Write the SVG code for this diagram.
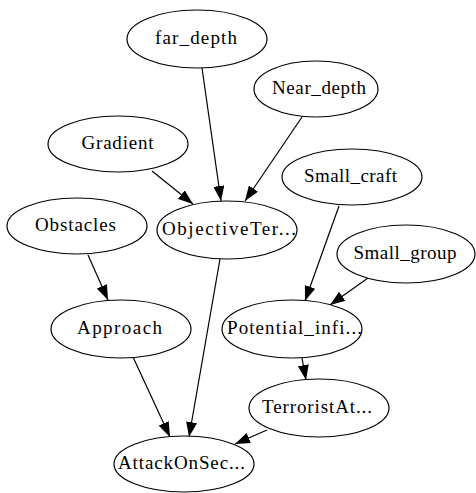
<svg xmlns="http://www.w3.org/2000/svg" width="476" height="493" viewBox="0 0 476 493">
  <style>
    .node ellipse { fill: #ffffff; stroke: #000000; stroke-width: 1.2; }
    .node text { font-family: 'Liberation Serif', 'Times New Roman', Times, Tinos, 'Noto Serif', 'DejaVu Serif', FreeSerif, serif; font-size: 19px; fill: #000000; text-anchor: middle; }
    .edge { stroke: #000000; stroke-width: 1.2; fill: none; marker-end: url(#arrow); }
  </style>
  <defs>
    <marker id="arrow" markerUnits="userSpaceOnUse" markerWidth="15" markerHeight="11" refX="15" refY="5.5" orient="auto">
      <path d="M0,0 L15,5.5 L0,11 z" fill="#000000"/>
    </marker>
  </defs>
  <rect width="476" height="493" fill="#ffffff"/>

  <g id="edges">
    <line class="edge" x1="202" y1="68" x2="221" y2="201"/>
    <line class="edge" x1="302" y1="117" x2="245" y2="201"/>
    <line class="edge" x1="152" y1="171" x2="193" y2="204"/>
    <line class="edge" x1="88" y1="255" x2="108" y2="300"/>
    <line class="edge" x1="220" y1="259" x2="189" y2="437"/>
    <line class="edge" x1="133" y1="357" x2="170" y2="437"/>
    <line class="edge" x1="339" y1="206" x2="305" y2="301"/>
    <line class="edge" x1="368" y1="278" x2="330" y2="305"/>
    <line class="edge" x1="302" y1="358" x2="306" y2="380"/>
    <line class="edge" x1="267" y1="430" x2="235" y2="444"/>
  </g>

  <g id="far_depth" class="node">
    <ellipse cx="197" cy="39" rx="70" ry="29"/>
    <text x="196" y="44" textLength="82" lengthAdjust="spacing">far_depth</text>
  </g>
  <g id="Near_depth" class="node">
    <ellipse cx="316" cy="89" rx="62" ry="28"/>
    <text x="319" y="94" textLength="94" lengthAdjust="spacing">Near_depth</text>
  </g>
  <g id="Gradient" class="node">
    <ellipse cx="118" cy="144" rx="70" ry="28"/>
    <text x="117.5" y="149" textLength="72" lengthAdjust="spacing">Gradient</text>
  </g>
  <g id="Small_craft" class="node">
    <ellipse cx="352" cy="177" rx="70" ry="28"/>
    <text x="350.5" y="182" textLength="93" lengthAdjust="spacing">Small_craft</text>
  </g>
  <g id="Obstacles" class="node">
    <ellipse cx="77" cy="226" rx="70" ry="28"/>
    <text x="75.5" y="231" textLength="81" lengthAdjust="spacing">Obstacles</text>
  </g>
  <g id="ObjectiveTer" class="node">
    <ellipse cx="227" cy="230" rx="70" ry="29"/>
    <text x="229" y="235" textLength="134" lengthAdjust="spacing">ObjectiveTer...</text>
  </g>
  <g id="Small_group" class="node">
    <ellipse cx="406" cy="254" rx="69" ry="29"/>
    <text x="405" y="259" textLength="103" lengthAdjust="spacing">Small_group</text>
  </g>
  <g id="Approach" class="node">
    <ellipse cx="121" cy="329" rx="70" ry="29"/>
    <text x="119.5" y="334" textLength="85" lengthAdjust="spacing">Approach</text>
  </g>
  <g id="Potential_infi" class="node">
    <ellipse cx="292" cy="329" rx="70" ry="29"/>
    <text x="294.5" y="334" textLength="135" lengthAdjust="spacing">Potential_infi...</text>
  </g>
  <g id="TerroristAt" class="node">
    <ellipse cx="319" cy="408" rx="70" ry="29"/>
    <text x="317" y="413" textLength="110" lengthAdjust="spacing">TerroristAt...</text>
  </g>
  <g id="AttackOnSec" class="node">
    <ellipse cx="184" cy="464" rx="70" ry="28"/>
    <text x="181.5" y="469" textLength="127" lengthAdjust="spacing">AttackOnSec...</text>
  </g>
</svg>
